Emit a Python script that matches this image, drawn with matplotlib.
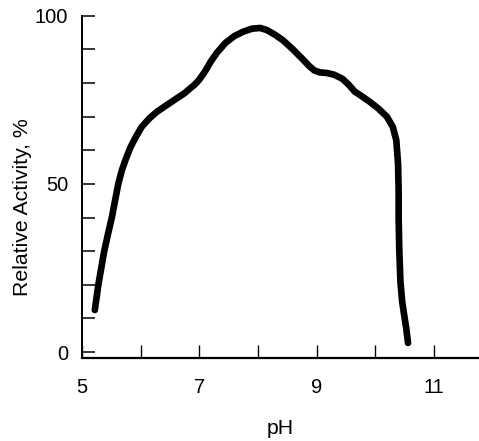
import matplotlib
matplotlib.use('Agg')
import matplotlib.pyplot as plt

plt.rcParams['font.family'] = ['Liberation Sans', 'DejaVu Sans']

# values
ph = [5.22, 5.28, 5.33, 5.38, 5.45, 5.51, 5.57, 5.62, 5.68, 5.75, 5.83, 5.92,
      6.02, 6.15, 6.28, 6.45, 6.62, 6.75, 6.85, 6.92, 7.00, 7.10, 7.20, 7.30,
      7.45, 7.60, 7.75, 7.90, 8.04, 8.15, 8.30, 8.43, 8.60, 8.77, 8.88, 8.96,
      9.05, 9.18, 9.30, 9.44, 9.55, 9.65, 9.78, 9.91, 10.05, 10.20, 10.30,
      10.36, 10.39, 10.40, 10.40, 10.41, 10.43, 10.46, 10.49, 10.53, 10.56]
activity = [12.5, 20, 25, 30, 35.5, 40, 45.5, 50, 54, 57.5, 61, 64,
            67, 69.5, 71.5, 73.5, 75.5, 77, 78.5, 79.5, 81, 83.5, 86.5, 89,
            92, 94, 95.3, 96.2, 96.4, 95.8, 94.3, 92.7, 90, 87, 85, 83.8,
            83.2, 83, 82.5, 81.3, 79.5, 77.5, 76, 74.4, 72.5, 70, 67,
            63, 56, 48, 40, 31, 21, 15, 11.5, 7, 2.7]

yticks = list(range(0, 101, 10))
ytick_labels = ['0', '', '', '', '', '50', '', '', '', '', '100']
xticks = [5, 6, 7, 8, 9, 10, 11]
xtick_labels = ['5', '', '7', '', '9', '', '11']

fig = plt.figure(figsize=(4.79, 4.41), dpi=100)
ax = fig.add_axes([0.171, 0.188, 0.829, 0.776])

ax.plot(ph, activity, color='black', lw=4.8, solid_capstyle='round',
        solid_joinstyle='round')

ax.set_xlim(5, 11.77)
ax.set_ylim(-1.8, 100)
ax.set_yticks(yticks)
ax.set_yticklabels(ytick_labels)
ax.set_xticks(xticks)
ax.set_xticklabels(xtick_labels)

for s in ['top', 'right']:
    ax.spines[s].set_visible(False)
ax.spines['left'].set_linewidth(1.4)
ax.spines['bottom'].set_linewidth(1.6)

ax.tick_params(axis='y', direction='in', length=9, width=1.1, labelsize=14.5, pad=10)
ax.tick_params(axis='x', direction='in', length=9.5, width=1.0, labelsize=14.5, pad=14)

ax.set_ylabel('Relative Activity, %', fontsize=15.3)
ax.yaxis.set_label_coords(-0.126, 0.44)
ax.set_xlabel('pH', fontsize=15.3, labelpad=16)

fig.savefig('out.png', dpi=100)
